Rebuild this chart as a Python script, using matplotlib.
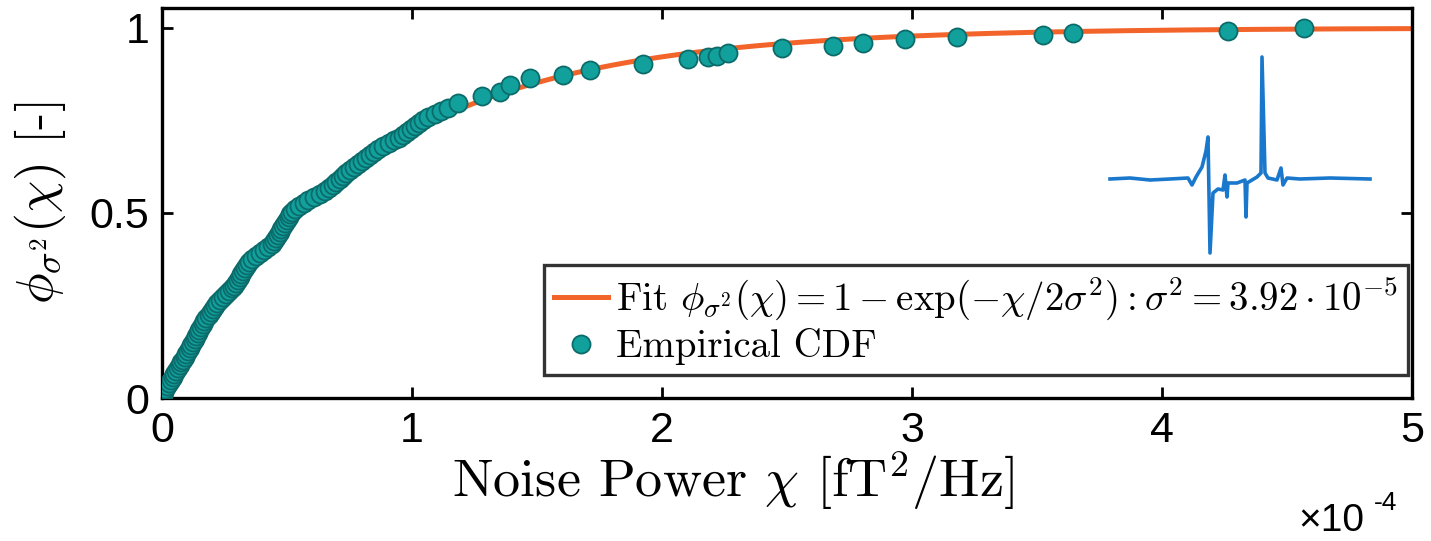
import numpy as np
import matplotlib
matplotlib.use("Agg")
import matplotlib.pyplot as plt
from matplotlib.lines import Line2D

plt.rcParams["font.family"] = ["Liberation Sans", "DejaVu Sans"]
plt.rcParams["mathtext.fontset"] = "cm"

# Empirical CDF of the noise power (chi in units of 1e-4 fT^2/Hz)
chi_e4 = [
    0.000, 0.002, 0.006, 0.013, 0.020, 0.027, 0.034, 0.042, 0.049, 0.056,
    0.063, 0.070, 0.077, 0.083, 0.090, 0.097, 0.104, 0.110, 0.117, 0.123,
    0.130, 0.136, 0.142, 0.149, 0.155, 0.162, 0.169, 0.177, 0.186, 0.194,
    0.202, 0.211, 0.219, 0.230, 0.242, 0.254, 0.266, 0.278, 0.288, 0.295,
    0.303, 0.310, 0.317, 0.325, 0.332, 0.340, 0.347, 0.358, 0.374, 0.390,
    0.406, 0.422, 0.438, 0.448, 0.456, 0.463, 0.470, 0.477, 0.484, 0.492,
    0.499, 0.506, 0.513, 0.520, 0.532, 0.549, 0.566, 0.583, 0.606, 0.630,
    0.653, 0.669, 0.683, 0.696, 0.710, 0.724, 0.737, 0.751, 0.767, 0.783,
    0.799, 0.815, 0.831, 0.847, 0.864, 0.885, 0.906, 0.927, 0.948, 0.965,
    0.981, 0.997, 1.013, 1.029, 1.045, 1.062, 1.090, 1.117, 1.144,
    1.183, 1.279, 1.351, 1.391, 1.471, 1.603, 1.711, 1.922, 2.102, 2.182,
    2.218, 2.262, 2.478, 2.682, 2.802, 2.970, 3.181, 3.525, 3.645, 4.265,
    4.568,
]
cdf = [
    0.000, 0.008, 0.016, 0.024, 0.032, 0.040, 0.048, 0.056, 0.064, 0.072,
    0.080, 0.088, 0.096, 0.104, 0.112, 0.120, 0.128, 0.136, 0.144, 0.152,
    0.160, 0.168, 0.176, 0.184, 0.192, 0.200, 0.208, 0.216, 0.224, 0.232,
    0.240, 0.248, 0.256, 0.264, 0.272, 0.280, 0.288, 0.296, 0.304, 0.312,
    0.320, 0.328, 0.336, 0.344, 0.352, 0.360, 0.368, 0.376, 0.384, 0.392,
    0.400, 0.408, 0.416, 0.424, 0.432, 0.440, 0.448, 0.456, 0.464, 0.472,
    0.480, 0.488, 0.496, 0.504, 0.512, 0.520, 0.528, 0.536, 0.544, 0.552,
    0.560, 0.568, 0.576, 0.584, 0.592, 0.600, 0.608, 0.616, 0.624, 0.632,
    0.640, 0.648, 0.656, 0.664, 0.672, 0.680, 0.688, 0.696, 0.704, 0.712,
    0.720, 0.728, 0.736, 0.744, 0.752, 0.760, 0.768, 0.776, 0.784,
    0.797, 0.816, 0.827, 0.846, 0.865, 0.873, 0.886, 0.903, 0.916, 0.922,
    0.924, 0.932, 0.946, 0.951, 0.959, 0.970, 0.976, 0.981, 0.986, 0.992,
    1.000,
]

# Rayleigh-type fit parameter
sigma2 = 3.92e-5

# Example signal trace shown as inset (sample index, amplitude)
trace_t = [0, 20, 40, 60, 78, 82, 86, 92, 96, 98, 100, 103, 108, 113, 115,
           117, 118, 127, 135, 136, 137, 147, 151, 152, 155, 158, 167, 171,
           173, 177, 190, 220, 260]
trace_a = [0, 1, -1, 0, 1, -6, 2, 12, 28, 42, -74, -14, -10, -11, 4,
           -18, -4, -4, -1, -38, -4, 2, 6, 122, 6, 1, -1, 11,
           -6, 1, 0, 1, 0]

x_ticks = [0, 1, 2, 3, 4, 5]
y_ticks = [0, 0.5, 1]
y_ticklabels = ["0", "0.5", "1"]

chi = np.array(chi_e4) * 1e-4
fit_color = "#f2642a"
dot_face = "#12a09c"
dot_edge = "#0b6b6a"
cm_font = "cmr10"

fig = plt.figure(figsize=(14.31, 5.41), dpi=100)
ax = fig.add_axes([162 / 1431, 1 - 398 / 541, (1412 - 162) / 1431, (398 - 8) / 541])

xf = np.linspace(0, 5e-4, 400)
ax.plot(xf, 1 - np.exp(-xf / (2 * sigma2)), color=fit_color, lw=3.6, zorder=2)
ax.plot(chi, cdf, "o", ms=13, mfc=dot_face, mec=dot_edge, mew=1.3, zorder=3)

ax.set_xlim(0, 5e-4)
ax.set_ylim(0, 1.054)
ax.set_xticks(np.array(x_ticks) * 1e-4)
ax.set_xticklabels([str(v) for v in x_ticks])
ax.set_yticks(y_ticks)
ax.set_yticklabels(y_ticklabels)
ax.tick_params(direction="in", length=8, width=2, labelsize=31, top=True, right=True,
               pad=9)
for s in ax.spines.values():
    s.set_linewidth(2.4)

ax.set_xlabel(r"Noise Power $\chi$ [fT$^2$/Hz]", fontfamily=cm_font, fontsize=39)
ax.xaxis.set_label_coords((733 - 162) / 1250, -(449 - 398) / 390)
ax.set_ylabel(r"$\phi_{\sigma^2}(\chi)$ [-]", fontfamily=cm_font, fontsize=37)
ax.yaxis.set_label_coords(-(162 - 68) / 1250, (398 - 203) / 390)

fig.text(1298 / 1431, 1 - 521 / 541, "\u00d710", fontsize=28, ha="left", va="center")
fig.text(1374 / 1431, 1 - 503 / 541, "-4", fontsize=19, ha="left", va="center")

handles = [
    Line2D([], [], color=fit_color, lw=3.6),
    Line2D([], [], ls="none", marker="o", ms=13, mfc=dot_face, mec=dot_edge, mew=1.3),
]
labels = [
    r"Fit $\phi_{\sigma^2}(\chi) = 1 - \exp(-\chi/2\sigma^2) : \sigma^2 = 3.92\cdot 10^{-5}$",
    "Empirical CDF",
]
leg = ax.legend(handles, labels, loc="lower right",
                bbox_to_anchor=((1408 - 162) / 1250, (398 - 375) / 390),
                prop={"family": cm_font, "size": 28}, frameon=True, fancybox=False,
                edgecolor="black", handlelength=1.4, handletextpad=0.2,
                borderpad=0.25, labelspacing=0.15, borderaxespad=0.0)
leg.get_frame().set_linewidth(2.4)

# Inset with a sample waveform
ins = fig.add_axes([1105 / 1431, 1 - 260 / 541, 270 / 1431, 210 / 541])
ins.plot(trace_t, trace_a, color="#1a78cc", lw=2.6)
ins.set_xlim(-5, 265)
ins.set_ylim(-81, 129)
ins.axis("off")
ins.patch.set_alpha(0)

fig.savefig("out.png", dpi=100)
